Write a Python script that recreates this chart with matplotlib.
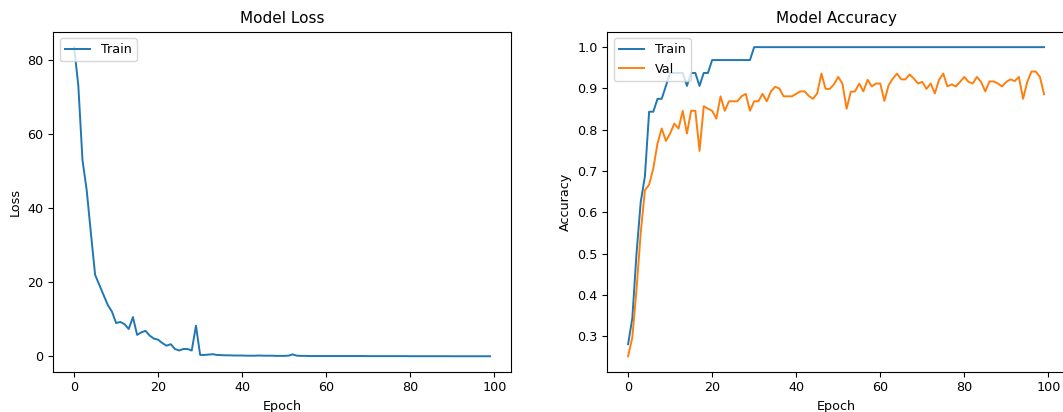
import matplotlib
matplotlib.use("Agg")
import matplotlib.pyplot as plt
import numpy as np

# training history
loss = [83.4, 73.1, 52.9, 44.8, 33.2, 22.0, 19.3, 16.6, 13.9, 12.1,
        9.0, 9.3, 8.7, 7.4, 10.6, 5.8, 6.5, 6.9, 5.6, 4.8,
        4.5, 3.6, 2.9, 3.3, 2.0, 1.6, 2.0, 2.0, 1.6, 8.3,
        0.4, 0.4, 0.5, 0.6, 0.4, 0.35, 0.3, 0.3, 0.25, 0.25,
        0.25, 0.2, 0.2, 0.2, 0.25, 0.2, 0.2, 0.2, 0.15, 0.15,
        0.15, 0.2, 0.55, 0.2, 0.15, 0.15, 0.1, 0.1, 0.1, 0.1,
        0.1, 0.1, 0.1, 0.1, 0.1, 0.1, 0.1, 0.1, 0.1, 0.1,
        0.08, 0.08, 0.08, 0.08, 0.08, 0.08, 0.08, 0.08, 0.08, 0.08,
        0.06, 0.06, 0.06, 0.06, 0.06, 0.06, 0.06, 0.06, 0.06, 0.06,
        0.05, 0.05, 0.05, 0.05, 0.05, 0.05, 0.05, 0.05, 0.05, 0.05]

acc = [0.28125, 0.34375, 0.5, 0.625, 0.6875, 0.84375, 0.84375, 0.875, 0.875, 0.90625,
       0.9375, 0.9375, 0.9375, 0.9375, 0.90625, 0.9375, 0.9375, 0.90625, 0.9375, 0.9375,
       0.96875, 0.96875, 0.96875, 0.96875, 0.96875, 0.96875, 0.96875, 0.96875, 0.96875, 0.96875] + [1.0] * 70

val_acc = [0.252, 0.297, 0.413, 0.55, 0.654, 0.667, 0.707, 0.767, 0.803, 0.773,
           0.791, 0.815, 0.803, 0.846, 0.791, 0.846, 0.846, 0.749, 0.857, 0.851,
           0.846, 0.827, 0.881, 0.846, 0.869, 0.869, 0.869, 0.881, 0.887, 0.846,
           0.869, 0.869, 0.887, 0.869, 0.893, 0.904, 0.9, 0.881, 0.881, 0.881,
           0.887, 0.893, 0.893, 0.882, 0.875, 0.888, 0.936, 0.899, 0.899, 0.91,
           0.928, 0.912, 0.851, 0.892, 0.893, 0.912, 0.893, 0.921, 0.905, 0.912,
           0.912, 0.87, 0.908, 0.924, 0.936, 0.922, 0.922, 0.934, 0.924, 0.912,
           0.916, 0.899, 0.912, 0.888, 0.921, 0.936, 0.905, 0.91, 0.905, 0.916,
           0.928, 0.916, 0.912, 0.928, 0.916, 0.893, 0.917, 0.917, 0.912, 0.905,
           0.916, 0.922, 0.918, 0.928, 0.875, 0.916, 0.941, 0.941, 0.928, 0.886]

# reference looks like a default figure shrunk by ~0.92
plt.rcParams['font.size'] = 9.2
plt.rcParams['axes.titlesize'] = 11
plt.rcParams['lines.linewidth'] = 1.4

W, H = 1063, 412
fig = plt.figure(figsize=(W / 100, H / 100), dpi=100)

# axes placed in pixel terms (the reference is cropped on the right)
ax1 = fig.add_axes([53.3 / W, (H - 371.7) / H, (510.9 - 53.3) / W, 340.0 / H])
ax2 = fig.add_axes([607.3 / W, (H - 371.7) / H, (1064.9 - 607.3) / W, 340.0 / H])

ax1.plot(loss)
ax1.set_title('Model Loss')
ax1.set_ylabel('Loss')
ax1.set_xlabel('Epoch')
ax1.legend(['Train'], loc='upper left')

ax2.plot(acc)
ax2.plot(val_acc)
ax2.set_title('Model Accuracy')
ax2.set_ylabel('Accuracy')
ax2.set_xlabel('Epoch')
ax2.legend(['Train', 'Val'], loc='upper left')

fig.savefig('out.png', dpi=100)
